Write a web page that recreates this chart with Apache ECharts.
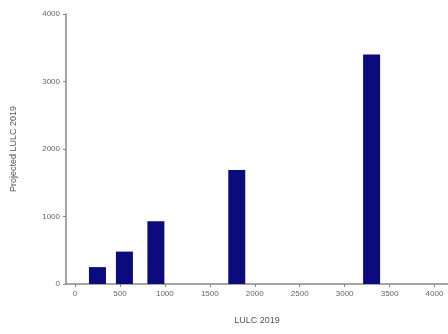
<!DOCTYPE html>
<html><head><meta charset="utf-8">
<script src="https://cdn.jsdelivr.net/npm/echarts@6/dist/echarts.min.js"></script>
<style>html,body{margin:0;padding:0;background:#fff}#c{width:448px;height:334px}</style>
</head><body><div id="c"></div>
<script>
const xValues = [250, 550, 900, 1800, 3300];
const yValues = [250, 480, 930, 1690, 3400];
const xTicks = [0, 500, 1000, 1500, 2000, 2500, 3000, 3500, 4000];
const xTitle = 'LULC 2019';
const yTitle = 'Projected LULC 2019';

const chart = echarts.init(document.getElementById('c'), null, {renderer: 'canvas'});
chart.setOption({
  animation: false,
  grid: {left: 66, right: 0, top: 14, bottom: 50},
  xAxis: {
    type: 'value', min: -100, max: 4150,
    name: xTitle, nameLocation: 'middle', nameGap: 32,
    nameTextStyle: {color: '#555', fontSize: 9, fontFamily: 'Arial'},
    axisLine: {onZero: false, lineStyle: {color: '#888', width: 1.5}},
    axisTick: {show: true, customValues: xTicks, length: 3, lineStyle: {color: '#888'}},
    axisLabel: {customValues: xTicks, formatter: v => String(v), color: '#666', fontSize: 8, fontFamily: 'Arial', margin: 6},
    splitLine: {show: false}
  },
  yAxis: {
    type: 'value', min: 0, max: 4000, interval: 1000,
    name: yTitle, nameLocation: 'middle', nameGap: 48, nameRotate: 90,
    nameTextStyle: {color: '#555', fontSize: 9, fontFamily: 'Arial'},
    axisLine: {show: true, onZero: false, lineStyle: {color: '#888', width: 1.5}},
    axisTick: {show: true, length: 3, lineStyle: {color: '#888'}},
    axisLabel: {formatter: v => String(v), color: '#666', fontSize: 8, fontFamily: 'Arial', margin: 6},
    splitLine: {show: false}
  },
  series: [{
    type: 'bar',
    barWidth: 17,
    itemStyle: {color: '#0b0b7d'},
    data: xValues.map((x, i) => [x, yValues[i]])
  }]
});
</script></body></html>
